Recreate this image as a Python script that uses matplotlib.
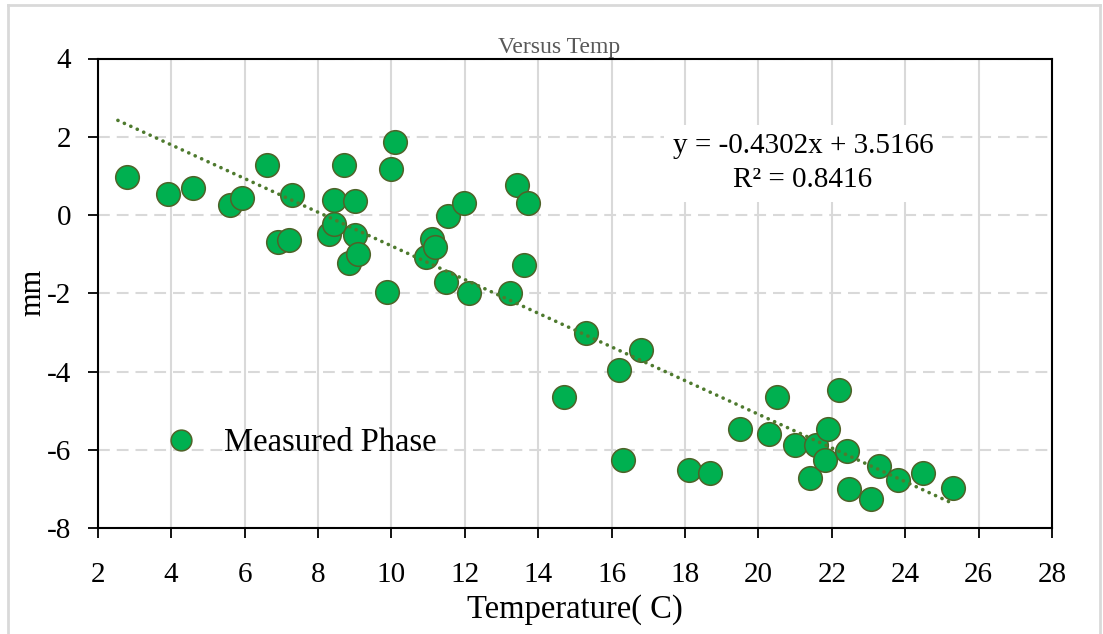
import matplotlib
matplotlib.use('Agg')
import matplotlib.pyplot as plt
from matplotlib.lines import Line2D

# data
temp = [2.80, 3.92, 4.60, 5.60, 5.92, 6.60, 6.91, 7.20, 7.30, 8.30,
        8.45, 8.43, 8.71, 9.00, 9.00, 8.86, 9.09, 9.89, 10.00, 10.11,
        10.95, 11.10, 11.20, 11.49, 11.55, 11.99, 12.11, 13.22, 13.42, 13.72,
        13.62, 14.71, 15.30, 16.19, 16.30, 16.81, 18.12, 18.69, 19.50, 20.29,
        20.50, 21.00, 21.41, 21.56, 21.81, 21.90, 22.19, 22.42, 22.47, 23.07,
        23.28, 23.80, 24.49, 25.31]
phase = [0.98, 0.55, 0.68, 0.27, 0.44, 1.28, -0.68, -0.64, 0.51, -0.47,
         -0.22, 0.38, 1.28, 0.37, -0.51, -1.23, -1.00, -1.97, 1.19, 1.86,
         -1.07, -0.60, -0.82, -1.72, -0.02, 0.30, -2.00, -1.98, 0.77, 0.30,
         -1.28, -4.64, -3.02, -3.96, -6.26, -3.45, -6.51, -6.58, -5.46, -5.59,
         -4.64, -5.87, -6.72, -5.87, -6.26, -5.47, -4.47, -6.02, -7.00, -7.25,
         -6.41, -6.77, -6.60, -6.96]

# trendline as printed on the chart
slope = -0.4302
intercept = 3.5166
r2 = 0.8416
trend_x = [2.55, 25.3]

x_ticks = list(range(2, 29, 2))
y_ticks = list(range(-8, 5, 2))

W, H = 1103, 634
plt.rcParams['font.family'] = ['Liberation Serif', 'DejaVu Serif']
plt.rcParams['lines.scale_dashes'] = False
plt.rcParams['axes.unicode_minus'] = False

fig = plt.figure(figsize=(W / 100, H / 100), dpi=100)
ax = fig.add_axes([97.7 / W, 1 - 528.3 / H, (1052 - 97.7) / W, (528.3 - 58.5) / H])

green = '#00B050'
edge = '#4F6228'
grid_c = '#D9D9D9'

ax.scatter(temp, phase, s=17 ** 2, facecolor=green, edgecolor=edge,
           linewidth=1.1, zorder=3, label='Measured Phase')

ty = [slope * v + intercept for v in trend_x]
ax.plot(trend_x, ty, color='#4E7A2E', linewidth=2.6, dashes=[0.1, 5.0],
        dash_capstyle='round', zorder=4)

ax.set_xlim(2, 28)
ax.set_ylim(-8, 4)
ax.set_xticks(x_ticks)
ax.set_yticks(y_ticks)
ax.tick_params(axis='both', direction='out', length=7, width=1.3,
               labelsize=21, color='black')
ax.tick_params(axis='x', pad=17)
ax.tick_params(axis='y', pad=12)
for sp in ax.spines.values():
    sp.set_linewidth(1.5)
    sp.set_color('black')

ax.set_axisbelow(True)
ax.xaxis.grid(True, color=grid_c, linewidth=1.5, linestyle='-')
ax.yaxis.grid(True, color=grid_c, linewidth=1.5, dashes=[8.5, 5])

# equation box
eq = 'y = %.4fx + %.4f\nR² = %.4f' % (slope, intercept, r2)
ax.text(803 / W, 1 - 163.5 / H, eq, transform=fig.transFigure, ha='center',
        va='center', fontsize=21, linespacing=1.4, multialignment='center',
        bbox=dict(facecolor='white', edgecolor='none', pad=6), zorder=2)

# legend
ax.legend(loc='center left', bbox_to_anchor=(165 / W, 1 - 443 / H),
          bbox_transform=fig.transFigure, frameon=False, fontsize=23.5,
          borderpad=0, borderaxespad=0, handlelength=1.0, handletextpad=0.8,
          markerscale=0.88, scatteryoffsets=[0.5])

# labels and title
fig.text(559 / W, 1 - 53 / H, 'Versus Temp', ha='center', va='baseline',
         fontsize=17, color='#595959')
fig.text(575 / W, 1 - 610 / H, 'Temperature( C)', ha='center', va='center',
         fontsize=23.5)
fig.text(33 / W, 1 - 292 / H, 'mm', ha='center', va='center', rotation=90,
         fontsize=22)

# light outer frame of the chart area
for xs, ys in [([8, 8], [5, H]), ([8, 1100], [5, 5]), ([1100, 1100], [5, H])]:
    fig.add_artist(Line2D([v / W for v in xs], [1 - v / H for v in ys],
                          transform=fig.transFigure, color=grid_c, linewidth=2))

fig.savefig('out.png', dpi=100)
